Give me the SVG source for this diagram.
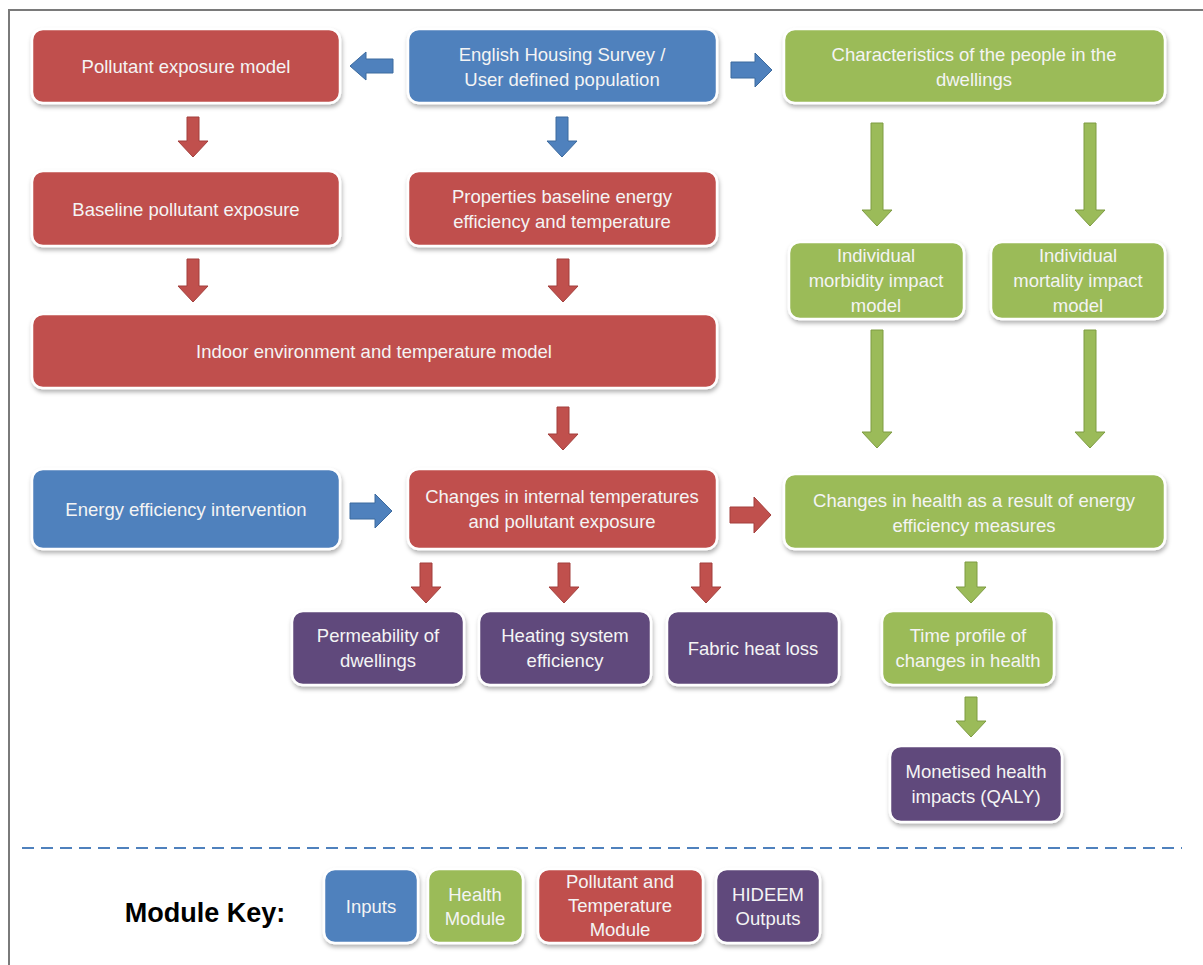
<svg xmlns="http://www.w3.org/2000/svg" width="1203" height="965" viewBox="0 0 1203 965">
<defs>
<filter id="sh" x="-10%" y="-10%" width="120%" height="130%">
<feDropShadow dx="1" dy="3" stdDeviation="2" flood-color="#000" flood-opacity="0.3"/>
</filter>
<style>
.box{stroke:#ffffff;stroke-width:2.5;filter:url(#sh)}
.blue{fill:#4F81BD}
.red{fill:#C0504D}
.green{fill:#9BBB59}
.purple{fill:#604A7B}
.t{font-family:"Liberation Sans",Arial,sans-serif;font-size:18.5px;fill:#F4F4F4;text-anchor:middle}
.ab{fill:#4F81BD;stroke:#3C6A9E;stroke-width:1}
.ar{fill:#C0504D;stroke:#A33F3C;stroke-width:1}
.ag{fill:#9BBB59;stroke:#7E9C43;stroke-width:1}
</style>
</defs>
<rect x="0" y="0" width="1203" height="965" fill="#ffffff"/>
<path d="M9,965 V10 H1203" fill="none" stroke="#7a7a7a" stroke-width="2"/>

<g id="connectors">
<path class="ab" d="M393,59 V73 H366 V80 L350,66 L366,52 V59 Z"/>
<path class="ab" d="M731,62 H755 V53 L772,70 L755,87 V78 H731 Z"/>
<path class="ab" d="M556,117 H568 V141 H577 L562,157 L547,141 H556 Z"/>
<path class="ab" d="M350,503 H375 V494 L392,511 L375,528 V519 H350 Z"/>
<path class="ar" d="M730,507 H754 V497 L771,515 L754,533 V523 H730 Z"/>
<path class="ar" d="M187,117 H199 V141 H208 L193,157 L178,141 H187 Z"/>
<path class="ar" d="M187,259 H199 V286 H208 L193,302 L178,286 H187 Z"/>
<path class="ar" d="M557,259 H569 V286 H578 L563,302 L548,286 H557 Z"/>
<path class="ar" d="M557,407 H569 V434 H578 L563,450 L548,434 H557 Z"/>
<path class="ar" d="M420,563 H432 V587 H441 L426,603 L411,587 H420 Z"/>
<path class="ar" d="M558,563 H570 V587 H579 L564,603 L549,587 H558 Z"/>
<path class="ar" d="M700,563 H712 V587 H721 L706,603 L691,587 H700 Z"/>
<path class="ag" d="M871,123 H883 V210 H892 L877,226 L862,210 H871 Z"/>
<path class="ag" d="M1084,123 H1096 V210 H1105 L1090,226 L1075,210 H1084 Z"/>
<path class="ag" d="M871,330 H883 V432 H892 L877,448 L862,432 H871 Z"/>
<path class="ag" d="M1084,330 H1096 V432 H1105 L1090,448 L1075,432 H1084 Z"/>
<path class="ag" d="M965,562 H977 V587 H986 L971,603 L956,587 H965 Z"/>
<path class="ag" d="M965,697 H977 V721 H986 L971,737 L956,721 H965 Z"/>
</g>

<g id="pollutant-exposure-model"><rect class="box red" x="32" y="29" width="308" height="74" rx="11"/><text class="t" x="186" y="73">Pollutant exposure model</text></g>
<g id="english-housing-survey"><rect class="box blue" x="408" y="29" width="309" height="74" rx="11"/><text class="t" x="562" y="61">English Housing Survey /</text><text class="t" x="562" y="86">User defined population</text></g>
<g id="characteristics"><rect class="box green" x="784" y="29" width="381" height="74" rx="11"/><text class="t" x="974" y="61">Characteristics of the people in the</text><text class="t" x="974" y="86">dwellings</text></g>
<g id="baseline-pollutant"><rect class="box red" x="32" y="171" width="308" height="75" rx="11"/><text class="t" x="186" y="216">Baseline pollutant exposure</text></g>
<g id="properties-baseline"><rect class="box red" x="408" y="171" width="309" height="75" rx="11"/><text class="t" x="562" y="203">Properties baseline energy</text><text class="t" x="562" y="228">efficiency and temperature</text></g>
<g id="indoor-environment"><rect class="box red" x="32" y="314" width="685" height="74" rx="11"/><text class="t" x="374" y="358">Indoor environment and temperature model</text></g>
<g id="morbidity"><rect class="box green" x="789" y="242" width="175" height="77" rx="11"/><text class="t" x="876" y="262">Individual</text><text class="t" x="876" y="287">morbidity impact</text><text class="t" x="876" y="312">model</text></g>
<g id="mortality"><rect class="box green" x="991" y="242" width="174" height="77" rx="11"/><text class="t" x="1078" y="262">Individual</text><text class="t" x="1078" y="287">mortality impact</text><text class="t" x="1078" y="312">model</text></g>
<g id="energy-intervention"><rect class="box blue" x="32" y="469" width="308" height="80" rx="11"/><text class="t" x="186" y="516">Energy efficiency intervention</text></g>
<g id="changes-internal"><rect class="box red" x="408" y="469" width="309" height="80" rx="11"/><text class="t" x="562" y="503">Changes in internal temperatures</text><text class="t" x="562" y="528">and pollutant exposure</text></g>
<g id="changes-health"><rect class="box green" x="784" y="474" width="381" height="75" rx="11"/><text class="t" x="974" y="507">Changes in health as a result of energy</text><text class="t" x="974" y="532">efficiency measures</text></g>
<g id="permeability"><rect class="box purple" x="292" y="611" width="172" height="74" rx="11"/><text class="t" x="378" y="642">Permeability of</text><text class="t" x="378" y="667">dwellings</text></g>
<g id="heating-system"><rect class="box purple" x="479" y="611" width="172" height="74" rx="11"/><text class="t" x="565" y="642">Heating system</text><text class="t" x="565" y="667">efficiency</text></g>
<g id="fabric-heat-loss"><rect class="box purple" x="667" y="611" width="172" height="74" rx="11"/><text class="t" x="753" y="655">Fabric heat loss</text></g>
<g id="time-profile"><rect class="box green" x="882" y="611" width="172" height="74" rx="11"/><text class="t" x="968" y="642">Time profile of</text><text class="t" x="968" y="667">changes in health</text></g>
<g id="monetised"><rect class="box purple" x="890" y="746" width="172" height="76" rx="11"/><text class="t" x="976" y="778">Monetised health</text><text class="t" x="976" y="803">impacts (QALY)</text></g>

<line x1="22" y1="848" x2="1182" y2="848" stroke="#4F81BD" stroke-width="2" stroke-dasharray="12,7"/>

<g id="module-key">
<text x="205" y="922" font-family="Liberation Sans, Arial, sans-serif" font-size="27" font-weight="bold" fill="#000" text-anchor="middle">Module Key:</text>
<g id="key-inputs"><rect class="box blue" x="324" y="869" width="94" height="74" rx="11"/><text class="t" x="371" y="913">Inputs</text></g>
<g id="key-health"><rect class="box green" x="428" y="869" width="95" height="74" rx="11"/><text class="t" x="475" y="901">Health</text><text class="t" x="475" y="925">Module</text></g>
<g id="key-pollutant"><rect class="box red" x="538" y="869" width="165" height="74" rx="11"/><text class="t" x="620" y="888">Pollutant and</text><text class="t" x="620" y="912">Temperature</text><text class="t" x="620" y="936">Module</text></g>
<g id="key-hideem"><rect class="box purple" x="716" y="869" width="104" height="74" rx="11"/><text class="t" x="768" y="901">HIDEEM</text><text class="t" x="768" y="925">Outputs</text></g>
</g>
</svg>
